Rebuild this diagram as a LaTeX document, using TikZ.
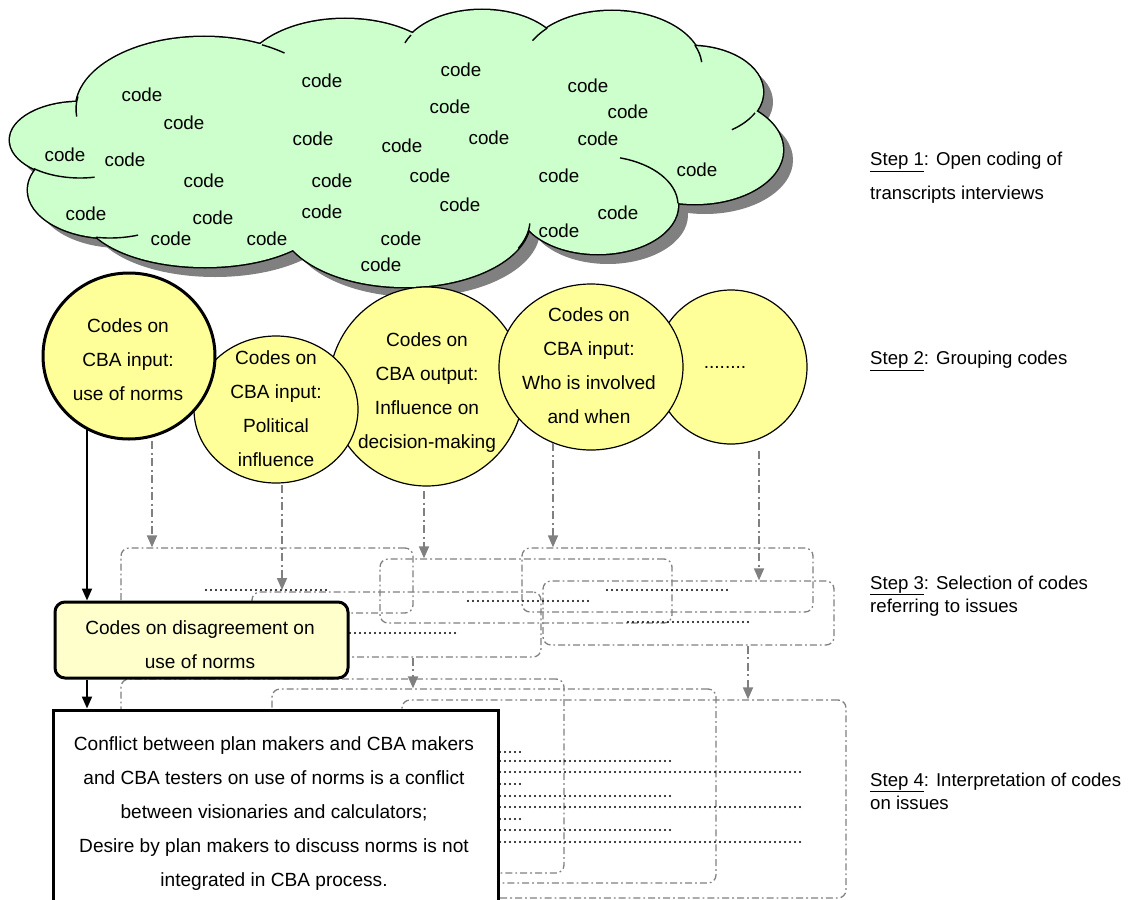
\documentclass[tikz,border=0pt]{standalone}
\usepackage{fontspec}
\setmainfont{Liberation Sans}
\usetikzlibrary{shapes.geometric,arrows.meta}
\definecolor{cloudg}{HTML}{CCFFCC}
\definecolor{shad}{HTML}{808080}
\definecolor{circy}{HTML}{FFFF99}
\definecolor{boxy}{HTML}{FFFFCC}
\definecolor{dgray}{HTML}{808080}
\begin{document}
\begin{tikzpicture}[x=1pt,y=-1pt,
  txt/.style={font=\fontsize{19.1}{34}\selectfont, align=center, inner sep=0},
  codetxt/.style={font=\fontsize{18.8}{20}\selectfont, inner sep=0},
  stepstyle/.style={font=\fontsize{18.6}{23}\selectfont, align=left, anchor=west, inner sep=0},
  circ/.style={ellipse, draw=black, line width=1.2pt, fill=circy, inner sep=0},
  dashbox/.style={draw=dgray, line width=1.3pt, rounded corners=8pt, dash pattern=on 7pt off 3pt on 1.8pt off 3pt, inner sep=0},
  garr/.style={draw=dgray, line width=1.8pt, dash pattern=on 8pt off 3.5pt on 2pt off 3.5pt, -{Triangle[length=12pt,width=10pt]}},
  barr/.style={draw=black, line width=2pt, -{Triangle[length=12pt,width=10pt]}},
  dots/.style={draw=black, line width=2.2pt, line cap=round, dash pattern=on 0pt off 5pt},
  inarc/.style={draw=black, line width=1.4pt}
]
\useasboundingbox (0,0) rectangle (1131,899);
\def\cloudlist{204/109/128/72, 345/79/104/60, 482/60/82/50, 612/67/90/56, 690/92/73/46, 695/150/88/54, 598/205/80/49, 405/220/125/67, 205/210/123/57, 110/190/82/48, 80/140/70/38}
% shadow
\begin{scope}[shift={(10,10)}]
  \fill[shad] (204,109) -- (345,79) -- (482,60) -- (612,67) -- (690,92) -- (695,150) -- (598,205) -- (405,220) -- (205,210) -- (110,190) -- (80,140) -- cycle;
  \foreach \cx/\cy/\rx/\ry in \cloudlist {\fill[shad] (\cx,\cy) ellipse [x radius=\rx pt, y radius=\ry pt];}
\end{scope}
% outline
\foreach \cx/\cy/\rx/\ry in \cloudlist {\draw[black, line width=3pt] (\cx,\cy) ellipse [x radius=\rx pt, y radius=\ry pt];}
% fill
\fill[cloudg] (204,109) -- (345,79) -- (482,60) -- (612,67) -- (690,92) -- (695,150) -- (598,205) -- (405,220) -- (205,210) -- (110,190) -- (80,140) -- cycle;
\foreach \cx/\cy/\rx/\ry in \cloudlist {\fill[cloudg] (\cx,\cy) ellipse [x radius=\rx pt, y radius=\ry pt];}
% inner arcs
\draw[inarc] ([shift={(204,109)}]63:128pt and 72pt) arc[start angle=63, end angle=51, x radius=128pt, y radius=72pt];
\draw[inarc] ([shift={(204,109)}]170:128pt and 72pt) arc[start angle=170, end angle=186, x radius=128pt, y radius=72pt];
\draw[inarc] ([shift={(482,60)}]150:82pt and 50pt) arc[start angle=150, end angle=160, x radius=82pt, y radius=50pt];
\draw[inarc] ([shift={(612,67)}]23:90pt and 56pt) arc[start angle=23, end angle=5, x radius=90pt, y radius=56pt];
\draw[inarc] ([shift={(612,67)}]152:90pt and 56pt) arc[start angle=152, end angle=136, x radius=90pt, y radius=56pt];
\draw[inarc] ([shift={(690,92)}]-27:73pt and 46pt) arc[start angle=-27, end angle=-55, x radius=73pt, y radius=46pt];
\draw[inarc] ([shift={(598,205)}]74:80pt and 49pt) arc[start angle=74, end angle=2, x radius=80pt, y radius=49pt];
\draw[inarc] ([shift={(405,220)}]-25:125pt and 67pt) arc[start angle=-25, end angle=-3, x radius=125pt, y radius=67pt];
\draw[inarc] ([shift={(110,190)}]-100:82pt and 48pt) arc[start angle=-100, end angle=-70, x radius=82pt, y radius=48pt];
\draw[inarc] ([shift={(80,140)}]-131:70pt and 38pt) arc[start angle=-131, end angle=-78, x radius=70pt, y radius=38pt];
% code texts
\foreach \px/\py [count=\i] in {142/95, 184/123, 65/155, 125/160, 204/181, 86/214, 213/218, 171/239, 267/239, 322/81, 313/139, 332/181, 322/212, 461/70, 450/107, 489/138, 402/146, 430/176, 460/205, 401/239, 381/265, 588/86, 628/112, 598/139, 697/170, 559/176, 618/213, 559/231}
  {\node[codetxt] (code\i) at (\px,\py) {code};}

% circles
\node[circ, minimum width=152pt, minimum height=154pt] (c5) at (731,367) {};
\node[circ, minimum width=195pt, minimum height=199pt] (c3) at (426.5,386.5) {};
\node[circ, minimum width=164pt, minimum height=147pt] (c2) at (276,409.5) {};
\node[circ, minimum width=184pt, minimum height=166pt] (c4) at (591,367) {};
\node[circ, line width=3pt, minimum width=172pt, minimum height=166pt] (c1) at (129,356) {};
\node[txt] (t1) at (128,360) {Codes on\\CBA input:\\use of norms};
\node[txt] (t2) at (276,408.5) {Codes on\\CBA input:\\Political\\influence};
\node[txt] (t3) at (427,393) {Codes on\\CBA output:\\Influence on\\decision-making};
\node[txt] (t4) at (589,365.5) {Codes on\\CBA input:\\Who is involved\\and when};
\node[txt] (t5) at (725,367) {........};

% dash-dot boxes step 3
\node[dashbox, minimum width=292pt, minimum height=65pt] (r1) at (267,580.5) {};
\node[dashbox, minimum width=292pt, minimum height=64pt] (r2) at (526,591) {};
\node[dashbox, minimum width=289pt, minimum height=65pt] (r3) at (396.5,624.5) {};
\node[dashbox, minimum width=291pt, minimum height=64pt] (r4) at (667.5,580) {};
\node[dashbox, minimum width=291pt, minimum height=64pt] (r5) at (688.5,613) {};
% dash-dot boxes step 4
\node[dashbox, minimum width=443pt, minimum height=194pt] (s1) at (342.5,776) {};
\node[dashbox, minimum width=444pt, minimum height=194pt] (s2) at (494,786) {};
\node[dashbox, minimum width=444pt, minimum height=198pt] (s3) at (624,799) {};

% dotted lines step 3
\coordinate (d1a) at (206,590); \coordinate (d1b) at (330,590);
\draw[dots] (d1a) -- (d1b);
\draw[dots] (468,601) -- (588,601);
\draw[dots] (607,590) -- (730,590);
\draw[dots] (628,622) -- (750,622);
\draw[dots] (350,633) -- (458,633);
% dotted lines step 4
\foreach \yy in {752,784,819} {\draw[dots] (500,\yy) -- (522,\yy);}
\foreach \yy in {761,796,830} {\draw[dots] (500,\yy) -- (673,\yy);}
\foreach \yy in {772,807,842} {\draw[dots] (500,\yy) -- (803,\yy);}

% gray arrows
\coordinate (g1) at (152,441);
\coordinate (g2) at (282,485);
\coordinate (g3) at (424,491);
\coordinate (g4) at (553,443);
\coordinate (g5) at (759,451);
\coordinate (g6) at (413,657);
\coordinate (g7) at (748,645);
\draw[garr] (g1) -- (g1 |- r1.north);
\draw[garr] (g2) -- (g2 |- d1a);
\draw[garr] (g3) -- (g3 |- r2.north);
\draw[garr] (g4) -- (g4 |- r4.north);
\draw[garr] (g5) -- (g5 |- r5.north);
\draw[garr] (g6 |- r3.south) -- (g6 |- s2.north);
\draw[garr] (g7 |- r5.south) -- (g7 |- s3.north);

% boxes
\node[draw=black, line width=3pt, fill=boxy, rounded corners=10pt, minimum width=293pt, minimum height=76pt, inner sep=0] (cb) at (201.5,640) {};
\node[txt] (tb) at (200,645) {Codes on disagreement on\\use of norms};
\node[draw=black, line width=3pt, fill=white, minimum width=445pt, minimum height=215pt, inner sep=0] (bb) at (275.5,817.5) {};
\node[txt] (tbig) at (274,814) {Conflict between plan makers and CBA makers\\and CBA testers on use of norms is a conflict\\between visionaries and calculators;\\Desire by plan makers to discuss norms is not\\integrated in CBA process.};

% black arrows
\coordinate (ka) at (87,428);
\draw[barr] (ka) -- (cb.north -| ka);
\draw[barr] (cb.south -| ka) -- (bb.north -| ka);

% step labels
\node[stepstyle, font=\fontsize{18.6}{34}\selectfont] (st1) at (870,178) {\underline{Step 1}: Open coding of\\transcripts interviews};
\node[stepstyle] (st2) at (870,361) {\underline{Step 2}: Grouping codes};
\node[stepstyle] (st3) at (870,596) {\underline{Step 3}: Selection of codes\\referring to issues};
\node[stepstyle] (st4) at (870,791) {\underline{Step 4}: Interpretation of codes\\on issues};
\end{tikzpicture}
\end{document}
